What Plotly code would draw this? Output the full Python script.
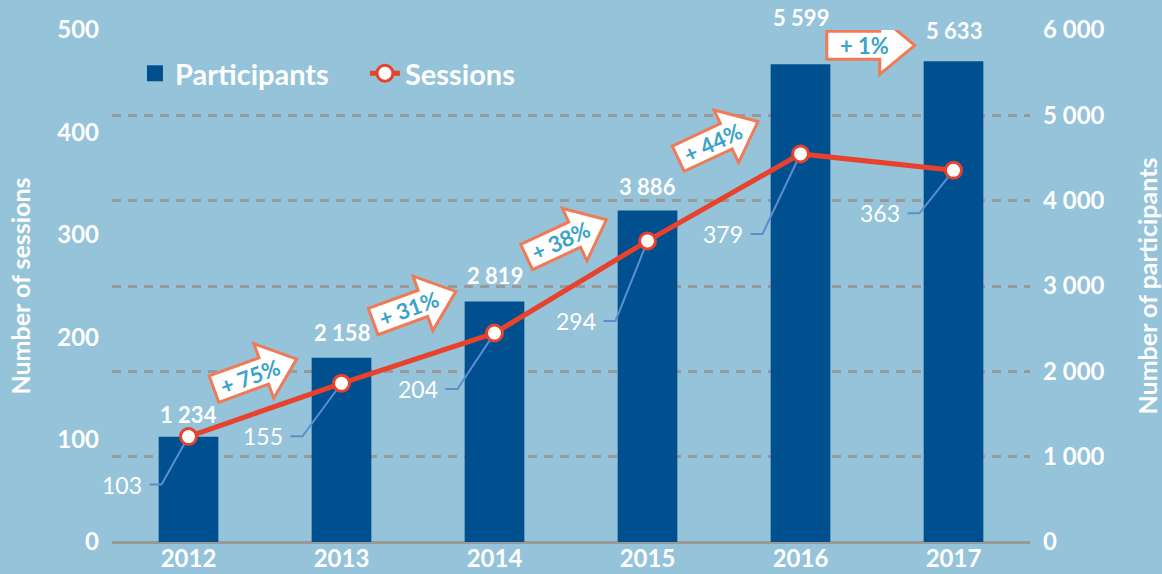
import math
import plotly.graph_objects as go

# ---------------- data ----------------
years = ["2012", "2013", "2014", "2015", "2016", "2017"]
participants = [1234, 2158, 2819, 3886, 5599, 5633]
sessions = [103, 155, 204, 294, 379, 363]

# ---------------- style ----------------
BG = "#95C3DA"
BAR = "#00508F"
RED = "#E8412C"
GRID = "#999999"
LEADER = "#5A8ED0"
ARROW_EDGE = "#F07A55"
ARROW_TEXT = "#3AA3C8"
FONT = "Lato"

# bar value label lift above bar top (pixels, to label centre)
bar_lab_shift = [22, 25, 26, 24, 47, 31]
# session label placement (pixels relative to marker: text right edge, vertical offset)
lab_dx = [-45, -57, -55, -50, -56, -52]
lab_dy = [-48, -53, -56, -80, -80, -43]
# growth arrows placement (category offset after each bar, session-axis height, tilt angle)
arr_dx = [0.40, 0.44, 0.435, 0.426, 0.42]
arr_y = [162, 228, 294, 390, 485]
arr_ang = [20, 20, 25, 25, 0]

xs = list(range(len(years)))

fig = go.Figure()

fig.add_trace(go.Bar(
    x=xs, y=participants, name="Participants", yaxis="y",
    marker=dict(color=BAR, line=dict(width=0)), width=0.39,
    showlegend=False, hoverinfo="skip",
))
# legend proxy for bars (bigger square)
fig.add_trace(go.Scatter(
    x=[None], y=[None], mode="markers", name="Participants",
    marker=dict(symbol="square", size=18, color=BAR), yaxis="y",
))
fig.add_trace(go.Scatter(
    x=xs, y=sessions, name="Sessions", yaxis="y2", mode="lines+markers",
    line=dict(color=RED, width=5),
    marker=dict(size=16, color="white", line=dict(color=RED, width=3)),
    cliponaxis=False, hoverinfo="skip",
))

shapes = []
annotations = []

# bar value labels
for i, v in enumerate(participants):
    annotations.append(dict(
        x=i, y=v, xref="x", yref="y", text=f"{v:,}".replace(",", " "),
        showarrow=False, xanchor="center", yanchor="middle", yshift=bar_lab_shift[i],
        font=dict(family=FONT, size=22, color="white", weight="bold"),
    ))

# session labels with leader lines
for i, v in enumerate(sessions):
    tx = lab_dx[i]
    dy = lab_dy[i]
    x1 = tx + 6
    x2 = x1 + 12
    L = math.hypot(x2, dy)
    r = 9
    ex = x2 - x2 * (L - r) / L
    ey = dy - dy * (L - r) / L
    shapes.append(dict(
        type="path", xref="x", yref="y2", xsizemode="pixel", ysizemode="pixel",
        xanchor=i, yanchor=v,
        path=f"M{x1},{dy} L{x2},{dy} L{ex:.1f},{ey:.1f}",
        line=dict(color=LEADER, width=2), layer="above",
    ))
    annotations.append(dict(
        x=i, y=v, xref="x", yref="y2", text=str(v), showarrow=False,
        xanchor="right", yanchor="middle", xshift=tx, yshift=dy,
        font=dict(family=FONT, size=23, color="white"),
    ))

# growth arrows
body = [(-38, 14), (15, 14), (15, 29), (50, 0), (15, -29), (15, -14), (-38, -14)]
for k in range(len(participants) - 1):
    pct = round((participants[k + 1] / participants[k] - 1) * 100)
    th = math.radians(arr_ang[k])
    pts = [(px * math.cos(th) - py * math.sin(th), px * math.sin(th) + py * math.cos(th)) for px, py in body]
    path = "M" + " L".join(f"{a:.1f},{b:.1f}" for a, b in pts) + " Z"
    xa = k + arr_dx[k]
    shapes.append(dict(
        type="path", xref="x", yref="y2", xsizemode="pixel", ysizemode="pixel",
        xanchor=xa, yanchor=arr_y[k], path=path,
        fillcolor="white", line=dict(color=ARROW_EDGE, width=3), layer="above",
    ))
    annotations.append(dict(
        x=xa, y=arr_y[k], xref="x", yref="y2", text=f"+ {pct}%", showarrow=False,
        textangle=-arr_ang[k], xanchor="center", yanchor="middle",
        font=dict(family=FONT, size=22, color=ARROW_TEXT, weight="bold"),
    ))

tickfont = dict(family=FONT, size=24, color="white", weight="bold")
titlefont = dict(family=FONT, size=25, color="white", weight="bold")

fig.update_layout(
    width=1162, height=574,
    margin=dict(l=112, r=132, t=30, b=32, autoexpand=False),
    paper_bgcolor=BG, plot_bgcolor=BG,
    separators=". ",
    font=dict(family=FONT, color="white"),
    xaxis=dict(
        range=[-0.5, 5.5], tickvals=xs, ticktext=years, tickfont=tickfont,
        showgrid=False, zeroline=False, showline=False, ticks="", automargin=False,
    ),
    yaxis=dict(
        side="right", range=[0, 6000], dtick=1000, tickformat=",d",
        tickfont=tickfont, showgrid=True, gridcolor=GRID, gridwidth=3,
        griddash="9px,7px", zeroline=True, zerolinecolor=GRID, zerolinewidth=3,
        showline=False, ticks="", ticklabelstandoff=12, automargin=False,
        title=dict(text="Number of participants", font=titlefont, standoff=36),
    ),
    yaxis2=dict(
        side="left", overlaying="y", range=[0, 500], dtick=100,
        tickfont=tickfont, showgrid=False, zeroline=False, showline=False,
        ticks="", ticklabelstandoff=12, automargin=False,
        title=dict(text="Number of sessions", font=titlefont, standoff=19),
    ),
    legend=dict(
        orientation="h", x=0.025, y=0.965, xanchor="left", yanchor="top",
        font=dict(family=FONT, size=29, color="white", weight="bold"),
        bgcolor="rgba(0,0,0,0)", traceorder="normal", entrywidth=185,
    ),
    shapes=shapes, annotations=annotations,
)

fig.write_html("out.html", config={"displayModeBar": False},
               post_script="document.body.style.margin='0';")
